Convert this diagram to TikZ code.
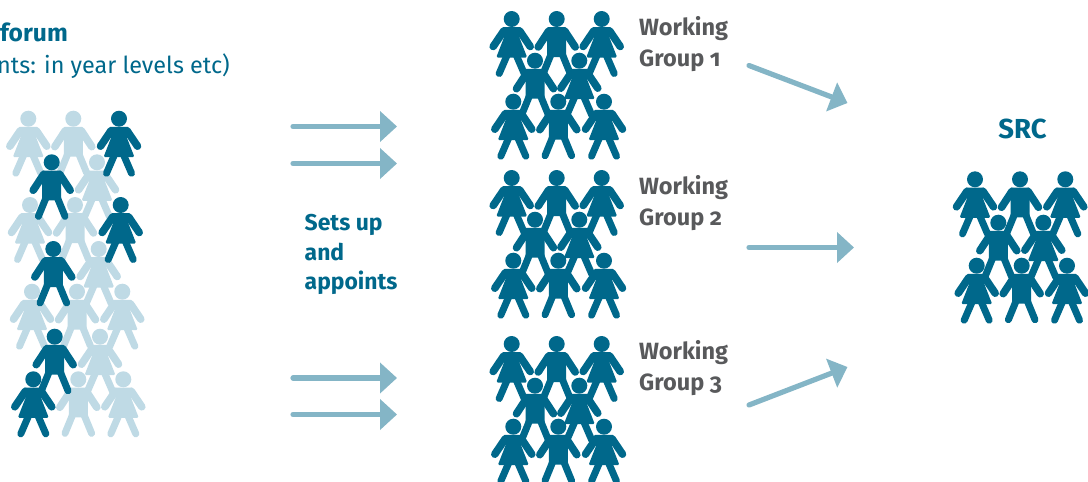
\documentclass[tikz,border=0pt]{standalone}
\usepackage{fontspec}
\setmainfont{Fira Sans}[Numbers=OldStyle]
\usetikzlibrary{arrows.meta}
\definecolor{figdark}{HTML}{00688B}
\definecolor{figlight}{HTML}{BFDAE5}
\definecolor{arrowblue}{HTML}{84B5C6}
\definecolor{greytext}{HTML}{58595B}
\tikzset{
  limb/.style={line width=7.6pt,line cap=round,line join=round},
  leg/.style={line width=7pt,line cap=round,line join=round},
  pics/girl/.style={code={
    \begin{scope}[color=#1,fill=#1]
      \fill (0,0) circle (8);
      \draw[limb] (-8,12) -- (-18.5,27.5);
      \draw[limb] (8,12) -- (18.5,27.5);
      \draw[leg] (-4.5,36) -- (-12.5,54.5);
      \draw[leg] (4.5,36) -- (12.5,54.5);
      \fill[rounded corners=1.5] (-10,8.2) -- (10,8.2) -- (7.5,18) -- (15.5,38.5) -- (-15.5,38.5) -- (-7.5,18) -- cycle;
    \end{scope}
  }},
  pics/boy/.style={code={
    \begin{scope}[color=#1,fill=#1]
      \fill (0,0) circle (8);
      \draw[limb] (-8,12) -- (-18.5,28);
      \draw[limb] (8,12) -- (18.5,28);
      \fill[rounded corners=1.5] (-10,8.2) -- (10,8.2) -- (9.5,20) -- (9.5,38) -- (-9.5,38) -- (-9.5,20) -- cycle;
      \draw[leg] (-5.5,35) -- (-13.3,54);
      \draw[leg] (5.5,35) -- (13.3,54);
    \end{scope}
  }},
  flow/.style={draw=arrowblue,line width=5.2pt,line cap=round,-{Triangle[length=17pt,width=30pt,fill=arrowblue]}},
  titleblue/.style={anchor=base west,inner sep=0pt,font=\bfseries\fontsize{24.6}{24.6}\selectfont,text=figdark},
  subblue/.style={anchor=base west,inner sep=0pt,font=\fontsize{23.4}{23.4}\selectfont,text=figdark},
  setsblue/.style={anchor=base west,inner sep=0pt,font=\bfseries\fontsize{22.9}{22.9}\selectfont,text=figdark},
  groupgrey/.style={anchor=base west,inner sep=0pt,font=\bfseries\fontsize{23.5}{23.5}\selectfont,text=greytext},
}
\newcommand{\teamfig}[2]{%
  \begin{scope}[shift={(#1,#2)}]
    \pic at (511.7,19) {girl=figdark};
    \pic at (556.7,19) {boy=figdark};
    \pic at (601.7,19) {girl=figdark};
    \pic at (535,60.7) {boy=figdark};
    \pic at (579.3,60.7) {girl=figdark};
    \pic at (513.3,101.7) {girl=figdark};
    \pic at (558.3,101.7) {boy=figdark};
    \pic at (604,101.7) {girl=figdark};
  \end{scope}}
\begin{document}
\begin{tikzpicture}[x=1pt,y=-1pt]
\useasboundingbox (0,0) rectangle (1088,482);
% left forum: light figures below, dark above
\pic at (28.3,118.7) {girl=figlight};
\pic at (73.3,118.7) {boy=figlight};
\pic at (97,162.3) {girl=figlight};
\pic at (30,205) {girl=figlight};
\pic at (75,205) {boy=figlight};
\pic at (98.7,249) {girl=figlight};
\pic at (32,291.7) {girl=figlight};
\pic at (77,291.7) {boy=figlight};
\pic at (122.3,291.7) {girl=figlight};
\pic at (100,336.7) {girl=figlight};
\pic at (78.3,379.3) {boy=figlight};
\pic at (123.3,379.3) {girl=figlight};
\pic at (119,118.7) {girl=figdark};
\pic at (51.7,162.3) {boy=figdark};
\pic at (120.7,205) {girl=figdark};
\pic at (53.3,249) {boy=figdark};
\pic at (54.7,336.7) {boy=figdark};
\pic at (33.3,379.3) {girl=figdark};
% teams
\teamfig{0}{0}
\teamfig{0}{159}
\teamfig{0}{325}
% SRC team
\pic at (975,179.3) {girl=figdark};
\pic at (1020,179.3) {boy=figdark};
\pic at (1065.3,179.3) {girl=figdark};
\pic at (998.3,222.7) {boy=figdark};
\pic at (1043.3,222.7) {girl=figdark};
\pic at (976.7,265.7) {girl=figdark};
\pic at (1021.7,265.7) {boy=figdark};
\pic at (1067,265.7) {girl=figdark};
% texts
\node[titleblue] (forum) at (0,41) {forum};
\node[subblue] (levels) at (-3,73) {nts: in year levels etc)};
\node[setsblue] (sets) at (304.5,230) {Sets up};
\node[setsblue] (and) at (304.5,260) {and};
\node[setsblue] (appoints) at (304.5,289) {appoints};
\node[groupgrey] (wa) at (639,35) {Working};
\node[groupgrey] (wb) at (639,66) {Group 1};
\node[groupgrey] (wc) at (639,194) {Working};
\node[groupgrey] (wd) at (639,225) {Group 2};
\node[groupgrey] (we) at (639,359) {Working};
\node[groupgrey] (wf) at (639,390) {Group 3};
\node[anchor=base,inner sep=0pt,font=\bfseries\fontsize{27.5}{27.5}\selectfont,text=figdark] (src) at (1022.5,138) {SRC};
% arrow end points
\coordinate (a1s) at (293,126.5); \coordinate (a1e) at (397,126.5);
\coordinate (a2s) at (293,163.5); \coordinate (a2e) at (397,163.5);
\coordinate (a3s) at (293,378); \coordinate (a3e) at (397,378);
\coordinate (a4s) at (293,414.5); \coordinate (a4e) at (397,414.5);
\coordinate (b1s) at (749,65.5); \coordinate (b1e) at (847.5,103);
\coordinate (b2s) at (749,247.5); \coordinate (b2e) at (854,247.5);
\coordinate (b3s) at (749,405); \coordinate (b3e) at (847.5,367);
\foreach \s/\e in {a1s/a1e,a2s/a2e,a3s/a3e,a4s/a4e,b1s/b1e,b2s/b2e,b3s/b3e}
  \draw[flow] (\s) -- (\e);
\end{tikzpicture}
\end{document}
